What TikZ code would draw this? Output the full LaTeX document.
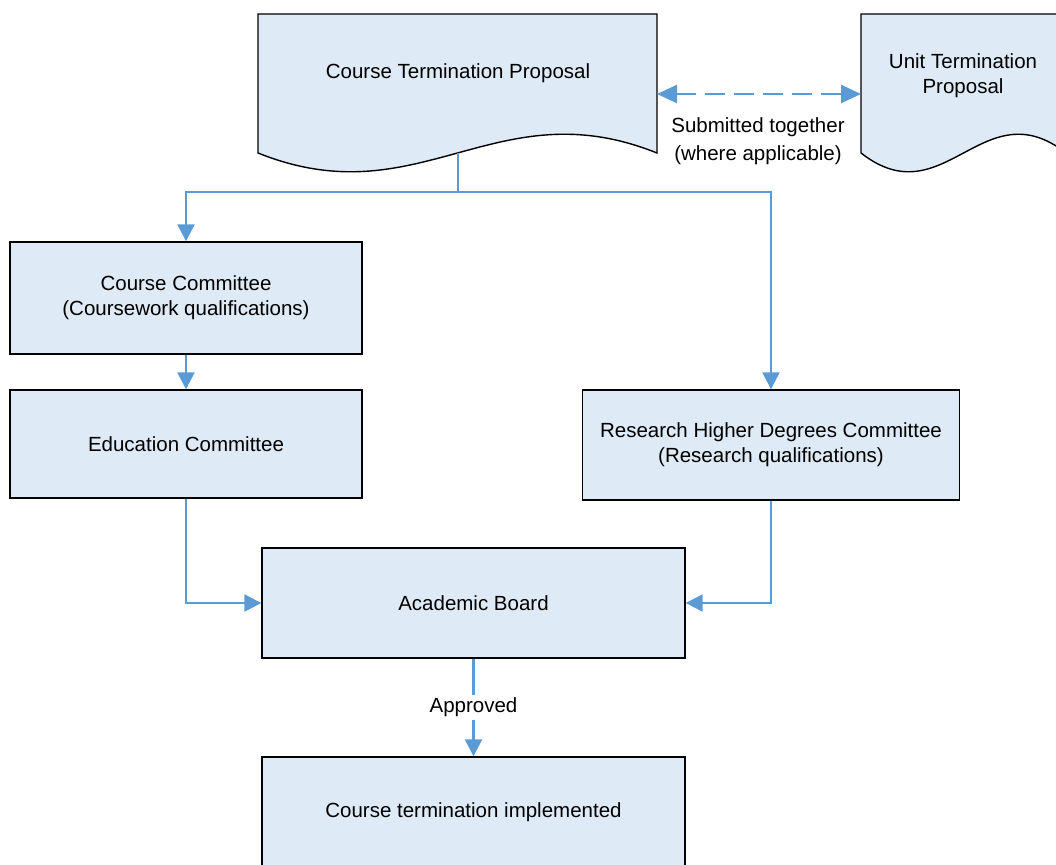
\documentclass[tikz,border=0pt]{standalone}
\usepackage{fontspec}
\setmainfont{Liberation Sans}
\usetikzlibrary{arrows.meta}
\definecolor{boxfill}{RGB}{222,234,246}
\definecolor{flow}{RGB}{91,155,213}
\begin{document}
\begin{tikzpicture}[x=1pt,y=-1pt,
  txt/.style={font=\fontsize{20.5}{25}\selectfont, align=center, inner sep=0pt},
  box/.style={txt, draw=black, line width=1.4pt, fill=boxfill},
  docshape/.style={draw=black, line width=1.4pt, fill=boxfill},
  lbl/.style={txt, fill=white, inner sep=3pt},
  flowline/.style={draw=flow, line width=2.4pt},
  arr/.style={flowline, -{Triangle[length=17pt,width=17pt]}},
  darr/.style={flowline, dash pattern=on 20pt off 9pt,
    {Triangle[length=20pt,width=18pt]}-{Triangle[length=20pt,width=18pt]}},
]
\useasboundingbox (0,0) rectangle (1056,864);

% document shapes
\path[docshape] (258,14) -- (657,14) -- (657,153)
  .. controls (495,88) and (420,218) .. (258,153) -- cycle;
\node[txt] (ctp) at (458,73) {Course Termination Proposal};
\path[docshape] (861,14) -- (1066,14) -- (1066,153)
  .. controls (983,88) and (944,218) .. (861,153) -- cycle;
\node[txt] (utp) at (963,76) {Unit Termination\\Proposal};

\coordinate (ctpR) at (657,94);
\coordinate (utpL) at (861,94);
\coordinate (ctpB) at (458,153);
\coordinate (split) at (458,192);

% boxes
\node[box, minimum width=352pt, minimum height=112pt] (cc) at (186,298)
  {Course Committee\\(Coursework qualifications)};
\node[box, minimum width=352pt, minimum height=108pt] (ec) at (186,444)
  {Education Committee};
\node[box, minimum width=377pt, minimum height=110pt] (rhdc) at (771,445)
  {Research Higher Degrees Committee\\(Research qualifications)};
\node[box, minimum width=423pt, minimum height=110pt] (ab) at (473.5,603)
  {Academic Board};
\node[box, minimum width=423pt, minimum height=110pt] (cti) at (473.5,812)
  {Course termination implemented};

% connectors
\draw[darr] (ctpR) -- (utpL);
\node[txt, font=\fontsize{20.5}{28}\selectfont] (sub) at (758,141)
  {Submitted together\\(where applicable)};
\draw[flowline] (ctpB) -- (split);
\draw[arr] (split) -| (cc.north);
\draw[arr] (split) -| (rhdc.north);
\draw[arr] (cc.south) -- (ec.north);
\draw[arr] (ec.south) |- (ab.west);
\draw[arr] (rhdc.south) |- (ab.east);
\draw[arr] (ab.south) -- node[lbl] (appr) {Approved} (cti.north);
\end{tikzpicture}
\end{document}
